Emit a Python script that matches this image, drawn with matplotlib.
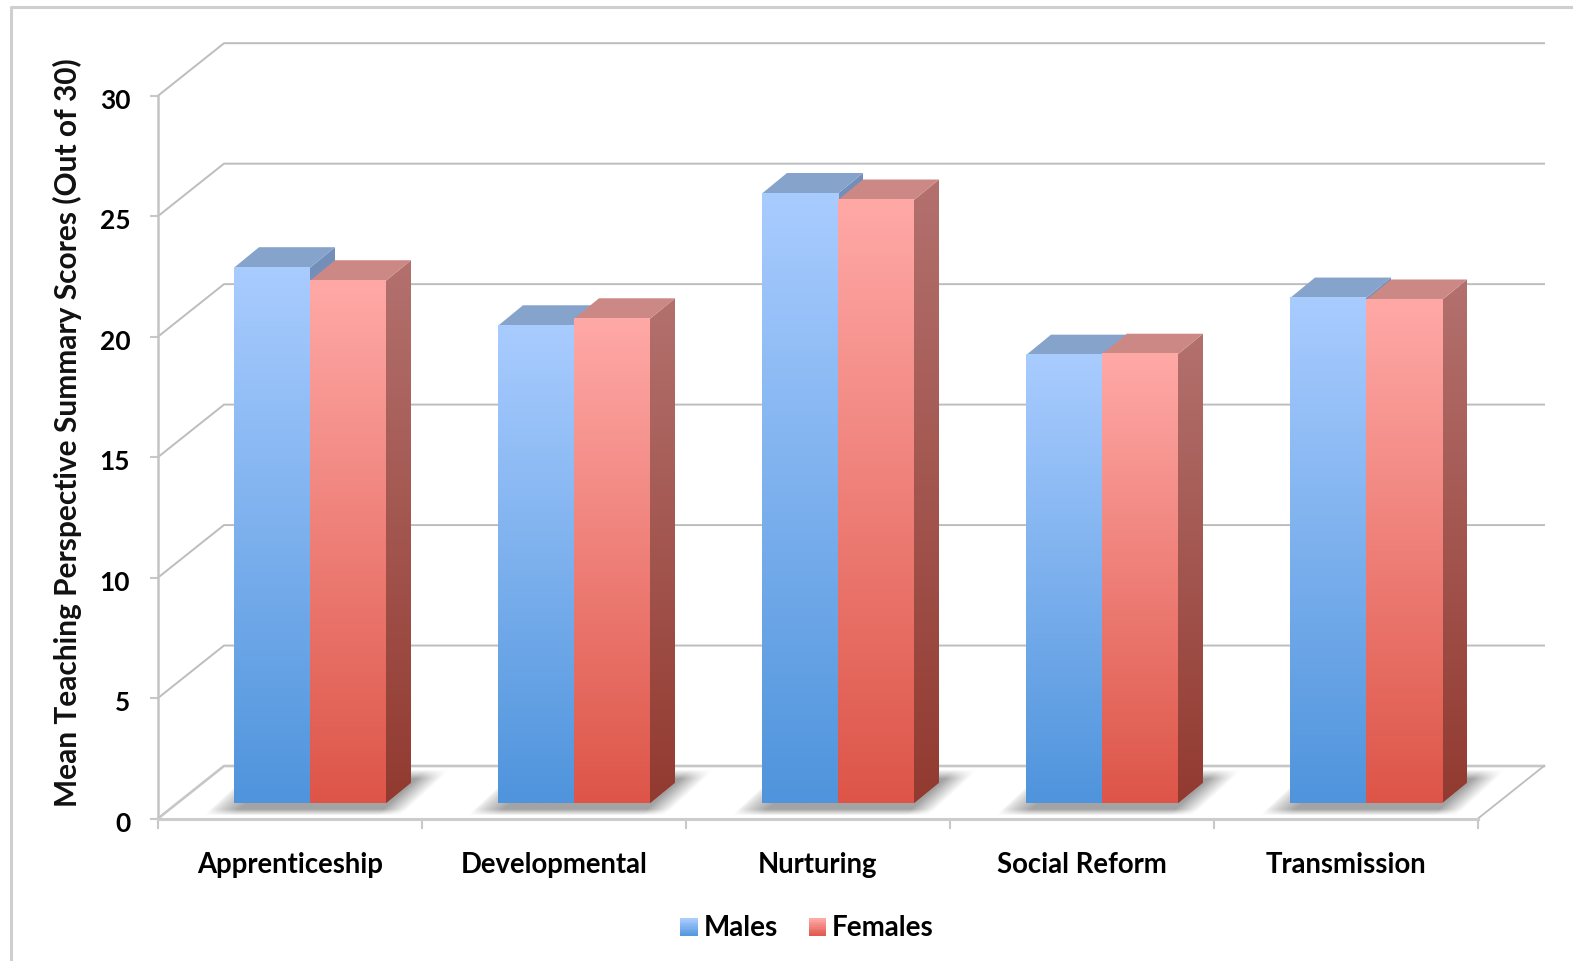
#!/usr/bin/env python3

import numpy as np
import matplotlib
matplotlib.use('Agg')
import matplotlib.pyplot as plt
from matplotlib.patches import Polygon, Rectangle
from matplotlib.legend_handler import HandlerBase
from matplotlib.lines import Line2D
from matplotlib.transforms import Affine2D

categories = ['Apprenticeship', 'Developmental', 'Nurturing', 'Social Reform', 'Transmission']
males = [22.23, 19.82, 25.31, 18.6, 20.97]
females = [21.69, 20.11, 25.04, 18.64, 20.89]
y_ticks = [0, 5, 10, 15, 20, 25, 30]

fig_w, fig_h = 1573, 961
left, right, bottom, top = 158, 1478, 818.5, 95.7

plt.rcParams['font.family'] = ['Lato', 'DejaVu Sans']
plt.rcParams['font.weight'] = 'bold'

fig = plt.figure(figsize=(fig_w / 100, fig_h / 100), dpi=100, facecolor='white')
ax = fig.add_axes([left / fig_w, 1 - bottom / fig_h, (right - left) / fig_w, (bottom - top) / fig_h])

# pixel sizes of the fake 3d depth, converted to data units
unit_x = (right - left) / len(categories)
unit_y = (bottom - top) / 30
wall_dx, wall_dy = 66 / unit_x, 52.5 / unit_y
bar_x0, bar_y0 = 20 / unit_x, 15.2 / unit_y
bar_dx, bar_dy = 25 / unit_x, 20.5 / unit_y
bar_w = 76 / unit_x

GRID = '#bdbdbd'
male_front = ('#a9ccff', '#4f94dc')
male_side = ('#7490ba', '#5f7fae')
male_top = '#86a3cc'
female_front = ('#ffa9a7', '#dd5548')
female_side = ('#b3716e', '#923a30')
female_top = '#cc8885'


def gradient(colors):
  c1 = np.array(matplotlib.colors.to_rgb(colors[0]))
  c2 = np.array(matplotlib.colors.to_rgb(colors[1]))
  t = np.linspace(0, 1, 256)[:, None, None]
  return c1 * (1 - t) + c2 * t


def draw_bar(x, value, front, side, top_color, z):
  base = bar_y0
  peak = bar_y0 + value
  ax.imshow(gradient(front), extent=(x, x + bar_w, base, peak), aspect='auto', zorder=z + 0.2)
  pts = [(x + bar_w, base), (x + bar_w + bar_dx, base + bar_dy),
         (x + bar_w + bar_dx, peak + bar_dy), (x + bar_w, peak)]
  im = ax.imshow(gradient(side), extent=(x + bar_w, x + bar_w + bar_dx, base, peak + bar_dy),
                 aspect='auto', zorder=z)
  im.set_clip_path(Polygon(pts, transform=ax.transData))
  ax.add_patch(Polygon([(x, peak), (x + bar_dx, peak + bar_dy), (x + bar_w + bar_dx, peak + bar_dy),
                        (x + bar_w, peak)], facecolor=top_color, edgecolor='none', zorder=z + 0.1))


def draw_shadow(x):
  # soft shadow on the floor behind and to the right of one bar pair
  w, h = 262, 46
  px, py = np.meshgrid(np.arange(w), np.arange(h))
  v = (h - py) / h
  u = px - v * 50
  a = np.clip(u / 30, 0, 1) ** 0.7 * np.clip((197 - u) / 24, 0, 1)
  a = a * np.clip((1 - v) / 0.2, 0, 1) * np.clip(v / 0.14, 0, 1)
  img = np.zeros((h, w, 4))
  img[..., :3] = 0.62
  img[..., 3] = a * 0.95
  x0 = x - 31 / unit_x
  y0 = 3 / unit_y
  im = ax.imshow(img, extent=(x0, x0 + w / unit_x, y0, y0 + h / unit_y), aspect='auto', zorder=1.5)
  im.set_clip_on(False)


class GradientSquare(HandlerBase):
  def __init__(self, colors):
    super().__init__()
    self.colors = colors

  def create_artists(self, legend, orig, xdescent, ydescent, width, height, fontsize, trans):
    strips = []
    rows = gradient(self.colors)[::26, 0]
    n = len(rows)
    size = height * 0.9
    for i, col in enumerate(rows):
      y = size * (n - i - 1) / n - ydescent
      strips.append(Rectangle((width - size, y), size, size / n + 0.3, facecolor=col,
                              edgecolor='none', transform=trans))
    return strips


# walls and floor
for tick in y_ticks:
  color = '#c6c6c6' if tick == 0 else GRID
  ax.plot([0, wall_dx, len(categories) + wall_dx], [tick, tick + wall_dy, tick + wall_dy],
          color=color, lw=1.4 if tick else 1.9, clip_on=False, zorder=1)
ax.plot([len(categories), len(categories) + wall_dx], [0, wall_dy], color=GRID, lw=1.3, clip_on=False, zorder=1)

centers = np.arange(len(categories)) + 0.5
for i, center in enumerate(centers):
  x = center + bar_x0 - bar_w
  draw_shadow(x)
  draw_bar(x, males[i], male_front, male_side, male_top, 2 + i)
  draw_bar(x + bar_w, females[i], female_front, female_side, female_top, 2.4 + i)

ax.patch.set_alpha(0)
ax.set_xlim(0, len(categories))
ax.set_ylim(0, 30)
for side in ['top', 'right']:
  ax.spines[side].set_visible(False)
ax.spines['left'].set_color('#c4c4c4')
ax.spines['left'].set_linewidth(1.8)
ax.spines['bottom'].set_color('#cccccc')
ax.spines['bottom'].set_linewidth(2.2)

ax.set_yticks(y_ticks)
ax.set_xticks(range(len(categories) + 1))
ax.set_xticklabels([])
ax.set_xticks(centers, categories, minor=True)
ax.tick_params(axis='x', which='major', length=7, width=1.5, color='#c8c8c8')
ax.tick_params(axis='x', which='minor', length=0, pad=24, labelsize=19.8)
ax.tick_params(axis='y', length=6, width=1.5, color='#c8c8c8', pad=14, labelsize=19)
for label in ax.get_yticklabels():
  label.set_transform(label.get_transform() + Affine2D().translate(0, -3))

fig.text(67 / fig_w, 1 - 433 / fig_h, 'Mean Teaching Perspective Summary Scores (Out of 30)',
         rotation=90, ha='center', va='center', fontsize=21.5, color='#111111')

handles = [Rectangle((0, 0), 1, 1), Rectangle((0, 0), 1, 1)]
fig.legend(handles, ['Males', 'Females'], loc='center', bbox_to_anchor=(807.5 / fig_w, 1 - 928 / fig_h),
           ncol=2, frameon=False, fontsize=20, handlelength=0.6, handletextpad=0.2, columnspacing=1.15,
           handler_map={handles[0]: GradientSquare(male_front), handles[1]: GradientSquare(female_front)})

# screenshot frame at the top left
fig.add_artist(Line2D([11 / fig_w, 11 / fig_w, 1], [0, 1 - 7 / fig_h, 1 - 7 / fig_h],
                      color='#cfcfcf', lw=2.2, transform=fig.transFigure))

fig.savefig('out.png', dpi=100)
